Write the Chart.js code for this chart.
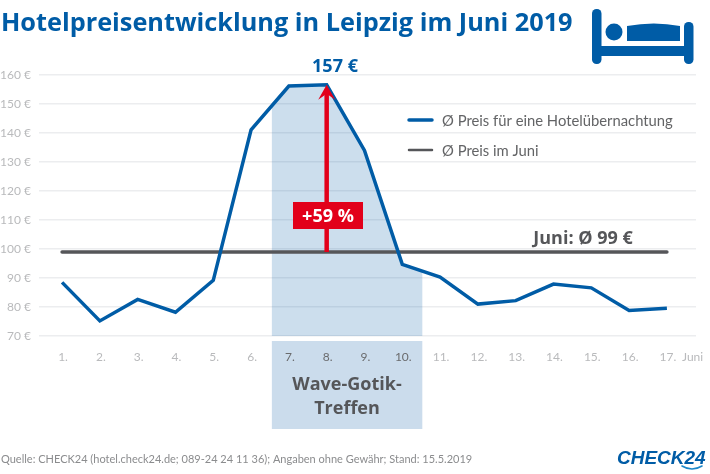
<!DOCTYPE html>
<html><head><meta charset="utf-8">
<style>html,body{margin:0;padding:0;background:#fff}canvas{display:block}</style>
<script src="https://cdn.jsdelivr.net/npm/chart.js@4"></script></head>
<body><canvas id="c" width="710" height="474"></canvas>
<script>
const days=[1,2,3,4,5,6,7,8,9,10,11,12,13,14,15,16,17];
const prices=[88.5,75.2,82.6,78.2,89.2,141.1,156.2,156.6,134,94.7,90.3,81,82.2,87.9,86.6,78.8,79.6];
const juneAverage=[99,99,99,99,99,99,99,99,99,99,99,99,99,99,99,99,99];
const yTicks={min:70,max:160,step:10};
const seriesNames=["Ø Preis für eine Hotelübernachtung","Ø Preis im Juni"];
const eventDays=[6.55,10.53];
const arrowDay=8, arrowFrom=99, arrowTo=156.6;
const BLUE="#005ca6", GREY="#555659", RED="#e2001a", TICK="#b9babc";
const SANS='"Open Sans"', THIN='Lato';
function txt(ctx,s,x,y,font,color,align){ctx.font=font;ctx.fillStyle=color;ctx.textAlign=align||"left";ctx.textBaseline="alphabetic";ctx.fillText(s,x,y);}
const lowerBandPlugin={id:"lowerBand",beforeDraw(ch){
  const {ctx,scales:{x,y}}=ch, l=x.getPixelForValue(eventDays[0]), r=x.getPixelForValue(eventDays[1]), b=y.getPixelForValue(yTicks.min);
  ctx.fillStyle="#cbdcec";ctx.fillRect(l,b+5,r-l,88);
}};
const bandPlugin={id:"band",beforeDatasetsDraw(ch){
  const {ctx,scales:{x,y}}=ch, l=x.getPixelForValue(eventDays[0]), r=x.getPixelForValue(eventDays[1]), b=y.getPixelForValue(yTicks.min);
  ctx.save();ctx.beginPath();ctx.rect(l,0,r-l,b);ctx.clip();
  ctx.beginPath();ctx.moveTo(x.getPixelForValue(days[0]),b);
  days.forEach((d,i)=>ctx.lineTo(x.getPixelForValue(d),y.getPixelForValue(prices[i])));
  ctx.lineTo(x.getPixelForValue(days[days.length-1]),b);ctx.closePath();
  ctx.fillStyle="rgba(0,90,165,0.2)";ctx.fill();ctx.restore();
}};
const overlayPlugin={id:"overlay",afterDatasetsDraw(ch){
  const {ctx,scales:{x,y}}=ch;
  ctx.save();
  const ax=x.getPixelForValue(arrowDay), y0=y.getPixelForValue(arrowFrom), y1=y.getPixelForValue(arrowTo);
  ctx.strokeStyle=RED;ctx.lineWidth=4.5;ctx.beginPath();ctx.moveTo(ax,y0);ctx.lineTo(ax,y1+6);ctx.stroke();
  ctx.fillStyle=RED;ctx.beginPath();ctx.moveTo(ax,y1);ctx.lineTo(ax+8.5,y1+15);ctx.lineTo(ax,y1+9);ctx.lineTo(ax-8.5,y1+15);ctx.closePath();ctx.fill();
  ctx.fillRect(293,202,70,27);
  txt(ctx,"+59 %",328,222,"bold 18px "+SANS,"#fff","center");
  txt(ctx,"157 €",335,72,"bold 18px "+SANS,BLUE,"center");
  txt(ctx,"Juni: Ø 99 €",583,244,"bold 18px "+SANS,GREY,"center");
  const rows=[[BLUE,3.5,120],[GREY,2.5,150]];
  rows.forEach((r,i)=>{ctx.strokeStyle=r[0];ctx.lineWidth=r[1];ctx.lineCap="round";ctx.beginPath();ctx.moveTo(409,r[2]);ctx.lineTo(432,r[2]);ctx.stroke();
    txt(ctx,seriesNames[i],442,r[2]+6,"14.8px "+THIN,"#636466");});
  txt(ctx,"Juni",682,361,"12px "+THIN,TICK);
  txt(ctx,"Wave-Gotik-",347,390,"bold 18px "+SANS,GREY,"center");
  txt(ctx,"Treffen",347,414,"bold 18px "+SANS,GREY,"center");
  txt(ctx,"Hotelpreisentwicklung in Leipzig im Juni 2019",1,31,"bold 25.3px "+SANS,BLUE);
  txt(ctx,"Quelle: CHECK24 (hotel.check24.de; 089-24 24 11 36); Angaben ohne Gewähr; Stand: 15.5.2019",1,463,"11px "+THIN,"#8b8c8e");
  ctx.fillStyle=BLUE;
  const rr=(a,b,w,h,r)=>{ctx.beginPath();ctx.roundRect(a,b,w,h,r);ctx.fill();};
  rr(592,9,9.5,55,4.5);rr(684,22,9.5,42,4.5);ctx.fillRect(600,46,86,10);
  ctx.beginPath();ctx.arc(614,32,8.5,0,Math.PI*2);ctx.fill();
  ctx.beginPath();ctx.moveTo(627,41);ctx.lineTo(627,26);ctx.quadraticCurveTo(654,21,680,26);ctx.lineTo(680,41);ctx.closePath();ctx.fill();
  txt(ctx,"CHECK24",617,464,'italic bold 19px "Liberation Sans"',BLUE);
  ctx.strokeStyle="#1b87c9";ctx.lineWidth=1.6;ctx.beginPath();ctx.moveTo(682,466);ctx.quadraticCurveTo(692,472,702,466);ctx.stroke();
  ctx.restore();
}};
new Chart(document.getElementById("c"),{
  type:"line",
  data:{datasets:[
    {label:seriesNames[0],data:days.map((d,i)=>({x:d,y:prices[i]})),borderColor:BLUE,borderWidth:3.5,pointRadius:0,tension:0,fill:false,borderJoinStyle:"miter"},
    {label:seriesNames[1],data:days.map((d,i)=>({x:d,y:juneAverage[i]})),borderColor:GREY,borderWidth:3.5,pointRadius:0,tension:0,fill:false,borderCapStyle:"round"}
  ]},
  options:{responsive:false,animation:false,events:[],devicePixelRatio:1,
    layout:{padding:{top:75,right:14,left:0,bottom:0}},
    plugins:{legend:{display:false},tooltip:{enabled:false},title:{display:false}},
    scales:{
      x:{type:"linear",min:0.39,max:17.77,
        afterBuildTicks(s){s.ticks=days.map(v=>({value:v}));},
        afterFit(s){s.height=138;},
        grid:{display:false},border:{display:false},
        ticks:{autoSkip:false,maxRotation:0,padding:6,labelOffset:1,font:{family:"Lato",size:12},
          color:c=>(c.tick&&c.tick.value>=7&&c.tick.value<=10)?"#6a6b6d":TICK,
          callback:v=>v+"."}},
      y:{min:yTicks.min,max:yTicks.max,
        afterFit(s){s.width=39;},
        grid:{color:"#ecedef",lineWidth:1.5,drawTicks:false},border:{display:false},
        ticks:{stepSize:yTicks.step,padding:8,font:{family:"Lato",size:12},color:TICK,callback:v=>v+" €"}}
    }
  },
  plugins:[lowerBandPlugin,bandPlugin,overlayPlugin]
});
</script></body></html>
